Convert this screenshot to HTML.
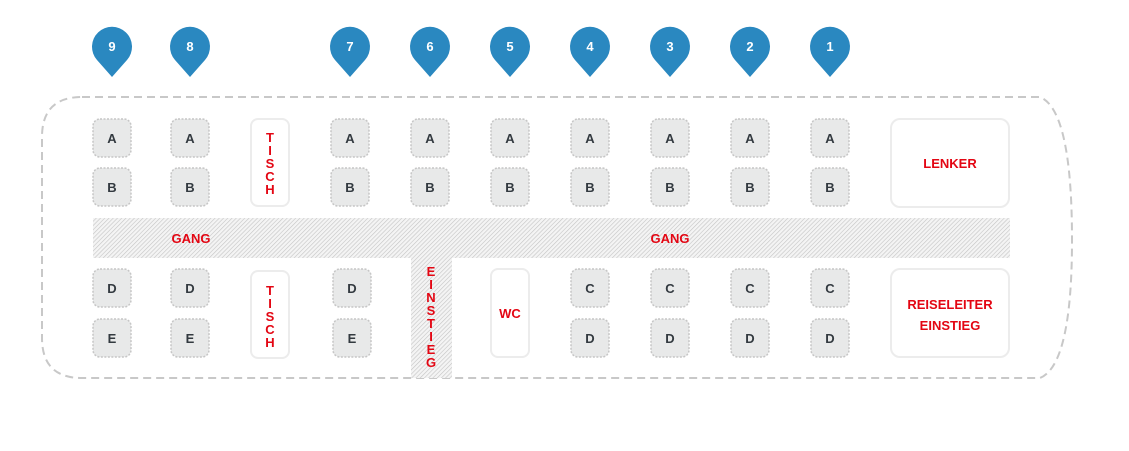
<!DOCTYPE html>
<html><head><style>body{margin:0;background:#fff}svg text{font-family:"Liberation Sans",sans-serif;font-weight:bold}</style></head><body>
<svg width="1129" height="446" viewBox="0 0 1129 446" xmlns="http://www.w3.org/2000/svg">
<defs>
<pattern id="h" width="3" height="3" patternUnits="userSpaceOnUse" patternTransform="rotate(45)">
<rect width="3" height="3" fill="#f4f4f4"/><line x1="0" y1="0" x2="0" y2="3" stroke="#c4c4c4" stroke-width="1.2"/></pattern>
<g id="pin"><path d="M0,52 L-15,35 A20,20 0 1 1 15,35 Z" fill="#2a88c0"/></g>
</defs>
<path d="M82,97 L1040,97 Q1072,110 1072,240 Q1072,365 1040,378 L82,378 Q42,378 42,338 L42,137 Q42,97 82,97 Z" fill="none" stroke="#c8c8c8" stroke-width="2" stroke-dasharray="8,5"/>
<rect x="93" y="218" width="917" height="40" fill="url(#h)"/>
<rect x="411" y="258" width="41" height="120" fill="url(#h)"/>
<g fill="#fff" stroke="#ececec" stroke-width="2">
<rect x="251" y="119" width="38" height="87" rx="7"/>
<rect x="251" y="271" width="38" height="87" rx="7"/>
<rect x="491" y="269" width="38" height="88" rx="7"/>
<rect x="891" y="119" width="118" height="88" rx="9"/>
<rect x="891" y="269" width="118" height="88" rx="9"/>
</g>
<g fill="#e8e9e9" stroke="#c6c6c6" stroke-width="1.5" stroke-dasharray="2,1.5">
<rect x="93" y="119" width="38" height="38" rx="7"/><rect x="93" y="168" width="38" height="38" rx="7"/>
<rect x="171" y="119" width="38" height="38" rx="7"/><rect x="171" y="168" width="38" height="38" rx="7"/>
<rect x="331" y="119" width="38" height="38" rx="7"/><rect x="331" y="168" width="38" height="38" rx="7"/>
<rect x="411" y="119" width="38" height="38" rx="7"/><rect x="411" y="168" width="38" height="38" rx="7"/>
<rect x="491" y="119" width="38" height="38" rx="7"/><rect x="491" y="168" width="38" height="38" rx="7"/>
<rect x="571" y="119" width="38" height="38" rx="7"/><rect x="571" y="168" width="38" height="38" rx="7"/>
<rect x="651" y="119" width="38" height="38" rx="7"/><rect x="651" y="168" width="38" height="38" rx="7"/>
<rect x="731" y="119" width="38" height="38" rx="7"/><rect x="731" y="168" width="38" height="38" rx="7"/>
<rect x="811" y="119" width="38" height="38" rx="7"/><rect x="811" y="168" width="38" height="38" rx="7"/>
<rect x="93" y="269" width="38" height="38" rx="7"/><rect x="93" y="319" width="38" height="38" rx="7"/>
<rect x="171" y="269" width="38" height="38" rx="7"/><rect x="171" y="319" width="38" height="38" rx="7"/>
<rect x="333" y="269" width="38" height="38" rx="7"/><rect x="333" y="319" width="38" height="38" rx="7"/>
<rect x="571" y="269" width="38" height="38" rx="7"/><rect x="571" y="319" width="38" height="38" rx="7"/>
<rect x="651" y="269" width="38" height="38" rx="7"/><rect x="651" y="319" width="38" height="38" rx="7"/>
<rect x="731" y="269" width="38" height="38" rx="7"/><rect x="731" y="319" width="38" height="38" rx="7"/>
<rect x="811" y="269" width="38" height="38" rx="7"/><rect x="811" y="319" width="38" height="38" rx="7"/>
</g>
<g fill="#333a40" font-size="13" text-anchor="middle">
<text x="112" y="143">A</text><text x="112" y="192">B</text><text x="190" y="143">A</text><text x="190" y="192">B</text>
<text x="350" y="143">A</text><text x="350" y="192">B</text><text x="430" y="143">A</text><text x="430" y="192">B</text>
<text x="510" y="143">A</text><text x="510" y="192">B</text><text x="590" y="143">A</text><text x="590" y="192">B</text>
<text x="670" y="143">A</text><text x="670" y="192">B</text><text x="750" y="143">A</text><text x="750" y="192">B</text>
<text x="830" y="143">A</text><text x="830" y="192">B</text>
<text x="112" y="293">D</text><text x="112" y="343">E</text><text x="190" y="293">D</text><text x="190" y="343">E</text>
<text x="352" y="293">D</text><text x="352" y="343">E</text>
<text x="590" y="293">C</text><text x="590" y="343">D</text><text x="670" y="293">C</text><text x="670" y="343">D</text>
<text x="750" y="293">C</text><text x="750" y="343">D</text><text x="830" y="293">C</text><text x="830" y="343">D</text>
</g>
<g fill="#e30613" font-size="13" text-anchor="middle">
<text x="191" y="243">GANG</text><text x="670" y="243">GANG</text>
<text x="950" y="168">LENKER</text>
<text x="950" y="309">REISELEITER</text><text x="950" y="330">EINSTIEG</text>
<text x="510" y="318">WC</text>
<text x="270" y="142">T</text><text x="270" y="155">I</text><text x="270" y="168">S</text><text x="270" y="181">C</text><text x="270" y="194">H</text>
<text x="270" y="295">T</text><text x="270" y="308">I</text><text x="270" y="321">S</text><text x="270" y="334">C</text><text x="270" y="347">H</text>
<text x="431" y="276">E</text><text x="431" y="289">I</text><text x="431" y="302">N</text><text x="431" y="315">S</text><text x="431" y="328">T</text><text x="431" y="341">I</text><text x="431" y="354">E</text><text x="431" y="367">G</text>
</g>
<g>
<use href="#pin" x="112" y="25"/><use href="#pin" x="190" y="25"/><use href="#pin" x="350" y="25"/><use href="#pin" x="430" y="25"/><use href="#pin" x="510" y="25"/><use href="#pin" x="590" y="25"/><use href="#pin" x="670" y="25"/><use href="#pin" x="750" y="25"/><use href="#pin" x="830" y="25"/>
</g>
<g fill="#fff" font-size="13" text-anchor="middle">
<text x="112" y="51">9</text><text x="190" y="51">8</text><text x="350" y="51">7</text><text x="430" y="51">6</text><text x="510" y="51">5</text><text x="590" y="51">4</text><text x="670" y="51">3</text><text x="750" y="51">2</text><text x="830" y="51">1</text>
</g>
</svg>
</body></html>
